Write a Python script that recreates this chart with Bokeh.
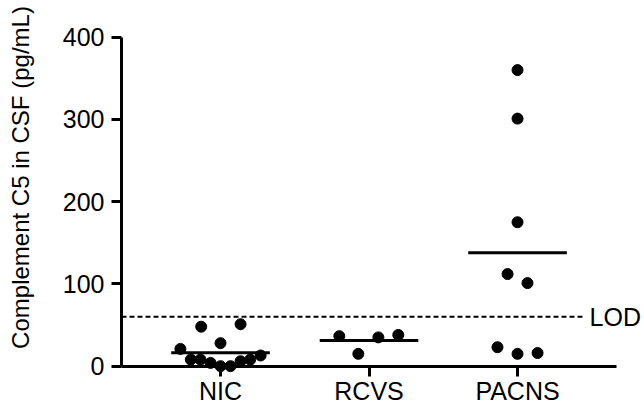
import numpy as np
from bokeh.plotting import figure
from bokeh.models import Range1d, FixedTicker, Label
from bokeh.embed import file_html
from bokeh.resources import INLINE

categories = ["NIC", "RCVS", "PACNS"]
nic_values = [48, 51, 28, 21, 8, 8, 4, 0, 0, 6, 8, 13]
nic_offsets = [-0.13, 0.135, 0.0, -0.27, -0.2, -0.135, -0.067, 0.0, 0.067, 0.135, 0.2, 0.27]
rcvs_values = [36.5, 35, 38, 15]
rcvs_offsets = [-0.2, 0.063, 0.197, -0.072]
pacns_values = [360, 301, 175, 112, 101, 23, 15, 16]
pacns_offsets = [0.0, 0.0, 0.0, -0.067, 0.067, -0.135, 0.0, 0.135]
lod_value = 60
y_ticks = [0, 100, 200, 300, 400]
y_title = "Complement C5 in CSF (pg/mL)"

FONT = "Liberation Sans"
FS = "25px"

p = figure(width=644, height=410, output_backend="svg", toolbar_location=None,
           x_range=Range1d(-0.4815, 3.855), y_range=Range1d(-53.9, 444.6),
           min_border_left=0, min_border_right=0, min_border_top=0, min_border_bottom=0)
p.outline_line_color = None
p.xgrid.visible = False
p.ygrid.visible = False
p.background_fill_color = "white"
p.border_fill_color = "white"

groups = [(nic_values, nic_offsets), (rcvs_values, rcvs_offsets), (pacns_values, pacns_offsets)]
for i, (vals, offs) in enumerate(groups):
    pos = i + 1
    xs = [pos + o for o in offs]
    p.scatter(xs, vals, size=11, color="black", marker="circle")
    m = float(np.mean(vals))
    p.segment(x0=[pos - 0.332], x1=[pos + 0.332], y0=[m], y1=[m], line_width=3, color="black")

# LOD line
p.segment(x0=[1/3], x1=[3.45], y0=[lod_value], y1=[lod_value], line_width=2,
          line_dash="5 3", color="black")
p.add_layout(Label(x=3.485, y=lod_value, text="LOD", text_font=FONT, text_font_size=FS,
                   text_baseline="middle", text_align="left", text_color="black"))

# axes
for ax in (p.xaxis[0], p.yaxis[0]):
    ax.axis_line_width = 3
    ax.axis_line_color = "black"
    ax.major_tick_line_width = 3
    ax.major_tick_line_color = "black"
    ax.major_tick_out = 10
    ax.major_tick_in = 0
    ax.minor_tick_line_color = None
    ax.major_label_text_font = FONT
    ax.major_label_text_font_size = FS
    ax.major_label_text_color = "black"

p.xaxis.ticker = FixedTicker(ticks=[1, 2, 3])
p.xaxis.major_label_overrides = {i + 1: c for i, c in enumerate(categories)}
p.xaxis.major_label_standoff = 1
p.xaxis.fixed_location = 0
p.xaxis.bounds = (1/3, 11/3)
p.yaxis.ticker = FixedTicker(ticks=y_ticks)
p.yaxis.major_label_standoff = 7
p.yaxis.fixed_location = 1/3
p.yaxis.bounds = (0, 400)

p.add_layout(Label(x=20, y=233, x_units="screen", y_units="screen", text=y_title,
                   angle=np.pi / 2, text_font=FONT, text_font_size="24px",
                   text_align="center", text_baseline="middle", text_color="black"))

open("out.html", "w").write(file_html(p, INLINE))
